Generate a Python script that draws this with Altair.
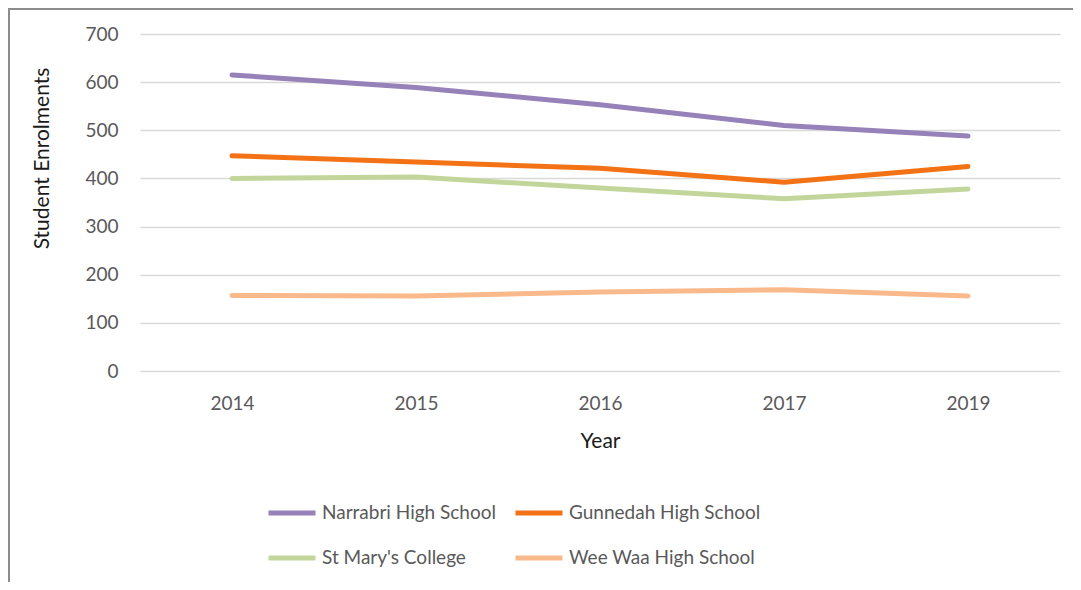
import altair as alt
import pandas as pd

years = ["2014", "2015", "2016", "2017", "2019"]
schools = ["Narrabri High School", "Gunnedah High School", "St Mary's College", "Wee Waa High School"]
narrabri = [615, 589, 553, 510, 488]
gunnedah = [447, 434, 421, 392, 425]
st_marys = [400, 403, 380, 358, 378]
wee_waa = [157, 156, 164, 169, 156]
colors = ["#9681B8", "#F47216", "#C2D69B", "#F9B98A"]

rows = []
for name, vals in zip(schools, [narrabri, gunnedah, st_marys, wee_waa]):
    for y, v in zip(years, vals):
        rows.append({"Year": y, "School": name, "Enrolments": v})
df = pd.DataFrame(rows)

FONT = "Lato"

lines = alt.Chart(df).mark_line(strokeWidth=5, strokeCap="round", strokeJoin="round").encode(
    x=alt.X("Year:O", sort=years,
            scale=alt.Scale(type="point", padding=0.5),
            axis=alt.Axis(title="Year", labelAngle=0, ticks=False, domain=False, grid=False,
                          labelPadding=23, labelFontSize=19, labelColor="#595959",
                          titleFontSize=21, titleFontWeight="normal", titleColor="#1a1a1a",
                          titlePadding=17, labelFont=FONT, titleFont=FONT)),
    y=alt.Y("Enrolments:Q",
            scale=alt.Scale(domain=[0, 700], nice=False),
            axis=alt.Axis(title="Student Enrolments", values=[0, 100, 200, 300, 400, 500, 600, 700],
                          ticks=False, domain=False, grid=True, gridColor="#D9D9D9", gridWidth=1.5,
                          labelPadding=22, labelFontSize=19, labelColor="#595959",
                          titleFontSize=21, titleFontWeight="normal", titleColor="#1a1a1a",
                          titleAngle=270, titleX=-98, titleY=124, titleAlign="center",
                          titleBaseline="middle", labelFont=FONT, titleFont=FONT)),
    color=alt.Color("School:N", sort=schools,
                    scale=alt.Scale(domain=schools, range=colors),
                    legend=alt.Legend(title=None, orient="none", legendX=126, legendY=453,
                                      direction="horizontal",
                                      columns=2, symbolType="stroke", symbolSize=2209,
                                      symbolStrokeWidth=5, labelFontSize=19, labelColor="#595959",
                                      labelOffset=4, columnPadding=9, rowPadding=9,
                                      labelFont=FONT, labelLimit=400)),
)

border_top = alt.Chart(alt.Data(values=[{}])).mark_rule(color="#8C8C8C", strokeWidth=2).encode(
    x=alt.value(-132), x2=alt.value(941), y=alt.value(-25)
)
border_left = alt.Chart(alt.Data(values=[{}])).mark_rule(color="#8C8C8C", strokeWidth=2).encode(
    x=alt.value(-131), y=alt.value(-26), y2=alt.value(560)
)

chart = alt.layer(lines, border_top, border_left).properties(
    width=920, height=337,
    autosize=alt.AutoSizeParams(type="none"),
    padding={"left": 132, "top": 26, "right": 13, "bottom": 211},
).configure_view(stroke=None)

chart.save("out.html", embed_options={"renderer": "svg", "actions": False})
